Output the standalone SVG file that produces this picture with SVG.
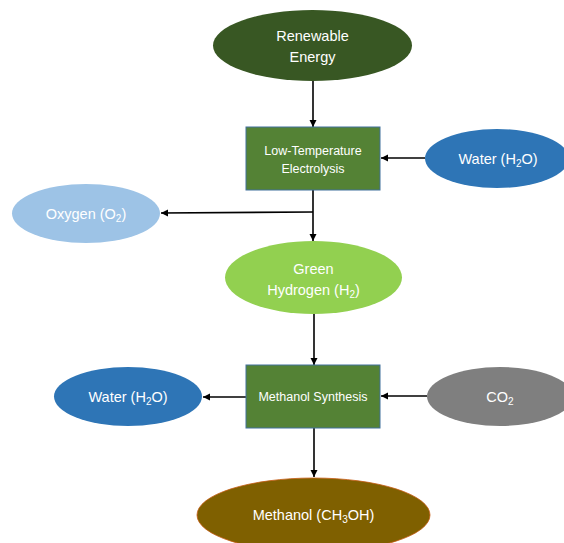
<svg xmlns="http://www.w3.org/2000/svg" width="564" height="543" viewBox="0 0 564 543">
<defs>
<marker id="ah" markerWidth="8" markerHeight="8" refX="7" refY="4" orient="auto" markerUnits="userSpaceOnUse">
<path d="M0,0.5 L7,4 L0,7.5 Z" fill="#000"/>
</marker>
<style>
text{font-family:"Liberation Sans",Arial,sans-serif;fill:#fff;text-anchor:middle}
.big{font-size:14.5px}
.sm{font-size:12.5px}
.sub{font-size:10px}
.con{stroke:#000;stroke-width:1.6;fill:none}
.box{fill:#548235;stroke:#41719c;stroke-width:1}
</style>
</defs>
<rect width="564" height="543" fill="#fff"/>
<g id="connectors">
<line class="con" x1="313" y1="81" x2="313" y2="127" marker-end="url(#ah)"/>
<line class="con" x1="425" y1="158" x2="381" y2="158" marker-end="url(#ah)"/>
<line class="con" x1="313" y1="190" x2="313" y2="241" marker-end="url(#ah)"/>
<line class="con" x1="313" y1="212" x2="161" y2="213" marker-end="url(#ah)"/>
<line class="con" x1="314" y1="314" x2="314" y2="365" marker-end="url(#ah)"/>
<line class="con" x1="246" y1="397" x2="203" y2="397" marker-end="url(#ah)"/>
<line class="con" x1="427" y1="396" x2="381" y2="396" marker-end="url(#ah)"/>
<line class="con" x1="314" y1="428" x2="314" y2="477" marker-end="url(#ah)"/>
</g>
<g id="renewable">
<ellipse cx="312.5" cy="45.5" rx="99.5" ry="35.5" fill="#385723"/>
<text class="big" x="312.5" y="40.5">Renewable</text>
<text class="big" x="312.5" y="61.5">Energy</text>
</g>
<g id="electrolysis">
<rect class="box" x="246" y="127" width="134" height="63"/>
<text class="sm" x="313" y="155">Low-Temperature</text>
<text class="sm" x="313" y="173">Electrolysis</text>
</g>
<g id="water-in">
<ellipse cx="497" cy="158.5" rx="72" ry="29.5" fill="#2e75b6"/>
<text class="big" x="498" y="163.5">Water (H<tspan class="sub" dy="3">2</tspan><tspan dy="-3">O)</tspan></text>
</g>
<g id="oxygen">
<ellipse cx="86" cy="213.5" rx="74" ry="29.5" fill="#9dc3e6"/>
<text class="big" x="86" y="218.5">Oxygen (O<tspan class="sub" dy="3">2</tspan><tspan dy="-3">)</tspan></text>
</g>
<g id="hydrogen">
<ellipse cx="313.5" cy="277.5" rx="88.5" ry="36.5" fill="#92d050"/>
<text class="big" x="313.5" y="273.5">Green</text>
<text class="big" x="313.5" y="294.5">Hydrogen (H<tspan class="sub" dy="3">2</tspan><tspan dy="-3">)</tspan></text>
</g>
<g id="synthesis">
<rect class="box" x="246" y="365" width="134" height="63"/>
<text class="sm" x="313" y="401">Methanol Synthesis</text>
</g>
<g id="water-out">
<ellipse cx="128" cy="396.5" rx="74" ry="29.5" fill="#2e75b6"/>
<text class="big" x="128" y="401.5">Water (H<tspan class="sub" dy="3">2</tspan><tspan dy="-3">O)</tspan></text>
</g>
<g id="co2">
<ellipse cx="500" cy="396.5" rx="73" ry="29.5" fill="#7f7f7f"/>
<text class="big" x="500" y="401.5">CO<tspan class="sub" dy="3">2</tspan></text>
</g>
<g id="methanol">
<ellipse cx="313.5" cy="515" rx="116.5" ry="37" fill="#7f6000" stroke="#c55a11" stroke-width="0.8"/>
<text class="big" x="313.5" y="520">Methanol (CH<tspan class="sub" dy="3">3</tspan><tspan dy="-3">OH)</tspan></text>
</g>
</svg>
